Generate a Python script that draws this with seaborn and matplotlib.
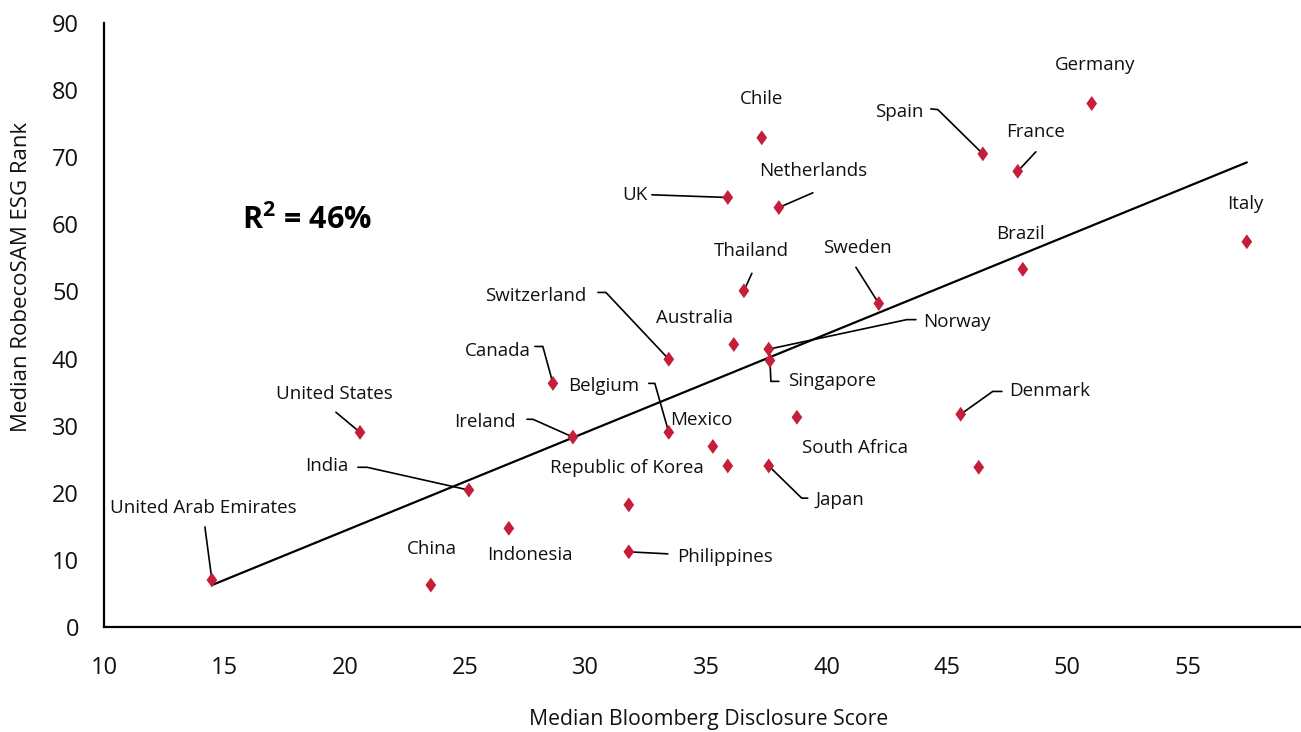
import matplotlib
matplotlib.use("Agg")
import matplotlib.pyplot as plt
import pandas as pd
import seaborn as sns

# Data
countries = [
    "United Arab Emirates", "China", "United States", "India", "Indonesia",
    "Ireland", "Canada", "Switzerland", "Belgium", "Mexico",
    "Republic of Korea", "", "Philippines", "Australia", "Norway",
    "Singapore", "Japan", "South Africa", "Thailand", "UK",
    "Netherlands", "Chile", "Sweden", "Spain", "France",
    "Germany", "Brazil", "Italy", "Denmark", "",
]
disclosure = [
    14.48, 23.57, 20.63, 25.15, 26.81,
    29.47, 28.64, 33.45, 33.45, 35.28,
    35.90, 31.79, 31.79, 36.15, 37.60,
    37.65, 37.60, 38.77, 36.57, 35.90,
    38.02, 37.31, 42.17, 46.49, 47.94,
    51.01, 48.15, 57.45, 45.57, 46.32,
]
esgRank = [
    7.0, 6.25, 29.0, 20.4, 14.7,
    28.3, 36.3, 39.9, 29.0, 26.9,
    24.0, 18.2, 11.2, 42.1, 41.4,
    39.7, 24.0, 31.25, 50.1, 64.0,
    62.5, 72.9, 48.2, 70.5, 67.9,
    78.0, 53.3, 57.4, 31.7, 23.8,
]
xTicks = [10, 15, 20, 25, 30, 35, 40, 45, 50, 55]
yTicks = [0, 10, 20, 30, 40, 50, 60, 70, 80, 90]
rSquaredText = r"R$^{\mathbf{2}}$ = 46%"

# Label layout: text centre and leader path (the path ends at the data point)
labelLayout = {
    "Germany": (51.14, 83.8, []),
    "Chile": (37.31, 78.7, []),
    "Spain": (43.0, 76.8, [(44.33, 77.2), (44.62, 77.1)]),
    "France": (48.69, 73.7, [(48.69, 70.8)]),
    "Netherlands": (39.43, 67.9, [(39.43, 64.7)]),
    "UK": (32.04, 64.4, [(32.75, 64.4)]),
    "Italy": (57.4, 63.1, []),
    "Thailand": (36.9, 56.0, [(36.9, 52.7)]),
    "Sweden": (41.26, 56.4, [(41.22, 53.6)]),
    "Brazil": (48.07, 58.6, []),
    "Switzerland": (27.93, 49.3, [(30.51, 49.85), (30.84, 49.85)]),
    "Australia": (34.53, 46.0, []),
    "Norway": (45.41, 45.5, [(43.71, 45.8), (43.33, 45.8)]),
    "Canada": (26.36, 41.2, [(27.89, 41.8), (28.22, 41.8)]),
    "Singapore": (40.22, 36.6, [(38.02, 36.6), (37.69, 36.6)]),
    "Belgium": (30.76, 35.9, [(32.62, 36.3), (32.87, 36.3)]),
    "United States": (19.55, 34.7, [(19.63, 32.0)]),
    "Denmark": (49.27, 35.1, [(47.28, 35.1), (46.9, 35.1)]),
    "Mexico": (34.82, 30.8, []),
    "Ireland": (25.82, 30.5, [(27.56, 30.95), (27.81, 30.95)]),
    "South Africa": (41.17, 26.6, []),
    "India": (19.26, 24.0, [(20.54, 23.8), (20.92, 23.8)]),
    "Republic of Korea": (31.71, 23.7, []),
    "Japan": (40.55, 18.9, [(39.22, 19.2), (38.97, 19.2)]),
    "United Arab Emirates": (14.11, 17.7, [(14.19, 14.9)]),
    "China": (23.62, 11.6, []),
    "Indonesia": (27.68, 10.7, []),
    "Philippines": (35.78, 10.4, [(33.41, 10.9)]),
}

# Diamond marker, a little narrower than it is tall
diamondMarker = [(0.0, 0.5), (0.36, 0.0), (0.0, -0.5), (-0.36, 0.0), (0.0, 0.5)]


def main():
    df = pd.DataFrame({"country": countries, "disclosure": disclosure, "esg": esgRank})

    sns.set_style("white")
    plt.rcParams["font.family"] = ["Open Sans", "DejaVu Sans"]
    plt.rcParams["mathtext.fontset"] = "custom"
    plt.rcParams["mathtext.bf"] = "Open Sans:bold"
    plt.rcParams["mathtext.rm"] = "Open Sans"

    fig = plt.figure(figsize=(13.01, 7.32), dpi=100)
    ax = fig.add_axes([104 / 1301, 105 / 732, 1197 / 1301, 604 / 732])

    # Trend line (ordinary least squares over the data range)
    sns.regplot(data=df, x="disclosure", y="esg", ax=ax, scatter=False, ci=None,
                truncate=True, line_kws={"color": "black", "linewidth": 1.6, "zorder": 2})

    # Leader lines and country labels
    for name, (tx, ty, path) in labelLayout.items():
        row = df[df["country"] == name].iloc[0]
        if path:
            xs = [p[0] for p in path] + [row["disclosure"]]
            ys = [p[1] for p in path] + [row["esg"]]
            ax.plot(xs, ys, color="black", linewidth=1.2, zorder=2)
        ax.text(tx, ty, name, ha="center", va="center", fontsize=13.5, color="#111111")

    sns.scatterplot(data=df, x="disclosure", y="esg", ax=ax, marker=diamondMarker, s=115,
                    color="#C41E3A", edgecolor="none", linewidth=0, zorder=3)

    ax.text(18.43, 60.6, rSquaredText, ha="center", va="center", fontsize=22,
            fontweight="bold", color="black")

    ax.set_xlim(10, 59.7)
    ax.set_ylim(0, 90)
    ax.set_xticks(xTicks)
    ax.set_yticks(yTicks)
    ax.tick_params(axis="both", length=0, labelsize=17, labelcolor="#111111")
    ax.tick_params(axis="x", pad=21)
    ax.tick_params(axis="y", pad=18)

    for side in ["top", "right"]:
        ax.spines[side].set_visible(False)
    for side in ["left", "bottom"]:
        ax.spines[side].set_color("black")
        ax.spines[side].set_linewidth(1.6)

    ax.set_xlabel("Median Bloomberg Disclosure Score", fontsize=15.3, color="#111111")
    ax.set_ylabel("Median RobecoSAM ESG Rank", fontsize=16, color="#111111")
    ax.xaxis.set_label_coords(0.505, -0.136)
    ax.yaxis.set_label_coords(-0.060, 0.579)

    fig.savefig("out.png", dpi=100)


if __name__ == "__main__":
    main()
